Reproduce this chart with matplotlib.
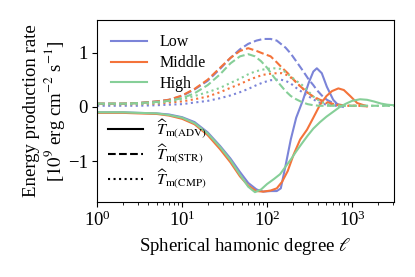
import numpy as np
import matplotlib.pyplot as plt
from matplotlib.lines import Line2D

plt.rcParams['font.family'] = 'serif'
plt.rcParams['font.serif'] = ['Liberation Serif', 'DejaVu Serif']
plt.rcParams['mathtext.fontset'] = 'stix'

# --- data ---
ell_low = [1, 2, 3, 5, 7, 10, 14, 20, 28, 37, 48, 60, 75, 90, 110, 130, 145,
           165, 190, 220, 265, 310, 350, 385, 440, 505, 600, 700, 780]
low_adv = [-0.10, -0.10, -0.11, -0.12, -0.14, -0.19, -0.28, -0.47, -0.72, -0.95,
           -1.20, -1.40, -1.52, -1.56, -1.55, -1.55, -1.50, -1.08, -0.60, -0.20,
           0.13, 0.45, 0.65, 0.71, 0.62, 0.37, 0.13, 0.02, 0.00]
low_str = [0.06, 0.06, 0.07, 0.10, 0.13, 0.20, 0.32, 0.48, 0.70, 0.90, 1.06,
           1.16, 1.22, 1.25, 1.25, 1.22, 1.16, 1.09, 0.98, 0.84, 0.66, 0.50,
           0.40, 0.31, 0.21, 0.13, 0.07, 0.04, 0.03]
low_cmp = [0.02, 0.02, 0.02, 0.03, 0.04, 0.05, 0.08, 0.11, 0.16, 0.21, 0.27,
           0.33, 0.40, 0.45, 0.49, 0.50, 0.50, 0.48, 0.43, 0.35, 0.26, 0.19,
           0.14, 0.10, 0.06, 0.04, 0.02, 0.02, 0.02]

ell_mid = [1, 2, 3, 5, 7, 10, 14, 20, 28, 37, 48, 60, 75, 90, 110, 130, 150,
           175, 205, 245, 295, 350, 420, 500, 580, 690, 800, 950, 1150, 1500]
mid_adv = [-0.11, -0.11, -0.12, -0.13, -0.16, -0.22, -0.32, -0.52, -0.78, -1.02,
           -1.28, -1.45, -1.55, -1.56, -1.54, -1.50, -1.38, -1.18, -0.88, -0.60,
           -0.42, -0.20, 0.04, 0.20, 0.29, 0.34, 0.31, 0.20, 0.07, 0.01]
mid_str = [0.06, 0.06, 0.07, 0.10, 0.13, 0.21, 0.33, 0.50, 0.72, 0.90, 1.03,
           1.08, 1.03, 0.98, 0.93, 0.82, 0.72, 0.62, 0.50, 0.38, 0.27, 0.19,
           0.13, 0.09, 0.06, 0.04, 0.03, 0.02, 0.02, 0.01]
mid_cmp = [0.05, 0.05, 0.05, 0.06, 0.08, 0.10, 0.14, 0.19, 0.27, 0.35, 0.42,
           0.49, 0.55, 0.59, 0.61, 0.62, 0.62, 0.58, 0.50, 0.38, 0.27, 0.18,
           0.12, 0.07, 0.04, 0.03, 0.02, 0.02, 0.02, 0.02]

ell_high = [1, 2, 3, 5, 7, 10, 14, 20, 28, 37, 48, 60, 72, 85, 100, 120, 142,
            165, 190, 220, 255, 300, 350, 420, 500, 600, 720, 850, 1000, 1240,
            1500, 1800, 2200, 2600, 3100]
high_adv = [-0.10, -0.10, -0.11, -0.12, -0.15, -0.20, -0.30, -0.49, -0.74, -0.98,
            -1.25, -1.47, -1.57, -1.52, -1.42, -1.33, -1.24, -1.10, -0.97, -0.82,
            -0.68, -0.53, -0.40, -0.28, -0.18, -0.09, 0.00, 0.06, 0.11, 0.14,
            0.13, 0.10, 0.06, 0.04, 0.03]
high_str = [0.06, 0.06, 0.07, 0.09, 0.11, 0.16, 0.25, 0.40, 0.60, 0.80, 0.93,
            0.97, 0.93, 0.84, 0.72, 0.55, 0.41, 0.29, 0.20, 0.14, 0.09, 0.05,
            0.03, 0.02, 0.02, 0.02, 0.02, 0.02, 0.02, 0.02, 0.02, 0.02, 0.02,
            0.02, 0.02]
high_cmp = [0.05, 0.05, 0.05, 0.07, 0.10, 0.14, 0.20, 0.27, 0.35, 0.44, 0.52,
            0.60, 0.65, 0.68, 0.70, 0.71, 0.70, 0.64, 0.56, 0.48, 0.41, 0.30,
            0.19, 0.10, 0.05, 0.03, 0.02, 0.02, 0.02, 0.02, 0.02, 0.02, 0.02,
            0.02, 0.02]

groups = ['Low', 'Middle', 'High']
colors = ['#7b84d8', '#f4733a', '#86cf98']
terms = [r'$\widehat{T}_{\rm m(ADV)}$', r'$\widehat{T}_{\rm m(STR)}$',
         r'$\widehat{T}_{\rm m(CMP)}$']
styles = ['-', '--', ':']

series = [
    (ell_low, [low_adv, low_str, low_cmp]),
    (ell_mid, [mid_adv, mid_str, mid_cmp]),
    (ell_high, [high_adv, high_str, high_cmp]),
]

fig = plt.figure(figsize=(4.15, 2.77), dpi=100)
ax = fig.add_axes([0.234, 0.271, 0.715, 0.657])

for (ell, vals), c in zip(series, colors):
    for v, ls in zip(vals, styles):
        ax.plot(ell, v, ls=ls, color=c, lw=1.5)

ax.set_xscale('log')
ax.set_xlim(1, 3100)
ax.set_ylim(-1.75, 1.6)
ax.set_yticks([-1, 0, 1])
ax.tick_params(labelsize=13.5, pad=3)
ax.set_xlabel(r'Spherical hamonic degree $\ell$', fontsize=13.5)
ax.set_ylabel('Energy production rate\n[$10^9$ erg cm$^{-2}$ s$^{-1}$]',
              fontsize=13.5, linespacing=1.1, labelpad=1)

h1 = [Line2D([], [], color=c, lw=1.5) for c in colors]
leg1 = ax.legend(h1, groups, loc='upper left', frameon=False, fontsize=11.5,
                 handlelength=2.2, labelspacing=0.3, borderaxespad=0.5)
ax.add_artist(leg1)
h2 = [Line2D([], [], color='k', lw=1.5, ls=ls) for ls in styles]
ax.legend(h2, terms, loc='lower left', frameon=False, fontsize=11.5,
          handlelength=2.2, labelspacing=0.1, borderaxespad=0.3)

fig.savefig('out.png', dpi=100)
